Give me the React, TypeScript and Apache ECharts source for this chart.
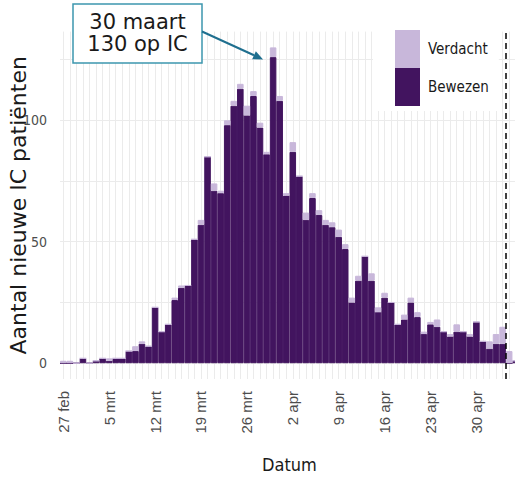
import React, { useEffect, useRef } from 'react';
import * as echarts from 'echarts';

const dates = [
  '27 feb', '28 feb', '29 feb',
  '1 mrt', '2 mrt', '3 mrt', '4 mrt', '5 mrt', '6 mrt', '7 mrt', '8 mrt', '9 mrt', '10 mrt',
  '11 mrt', '12 mrt', '13 mrt', '14 mrt', '15 mrt', '16 mrt', '17 mrt', '18 mrt', '19 mrt', '20 mrt',
  '21 mrt', '22 mrt', '23 mrt', '24 mrt', '25 mrt', '26 mrt', '27 mrt', '28 mrt', '29 mrt', '30 mrt', '31 mrt',
  '1 apr', '2 apr', '3 apr', '4 apr', '5 apr', '6 apr', '7 apr', '8 apr', '9 apr', '10 apr',
  '11 apr', '12 apr', '13 apr', '14 apr', '15 apr', '16 apr', '17 apr', '18 apr', '19 apr', '20 apr',
  '21 apr', '22 apr', '23 apr', '24 apr', '25 apr', '26 apr', '27 apr', '28 apr', '29 apr', '30 apr',
  '1 mei', '2 mei', '3 mei', '4 mei', '5 mei', '6 mei',
];

const bewezen = [
  0, 0, 0, 2, 0, 1, 2, 1, 2, 2,
  5, 5, 8, 7, 23, 13, 16, 26, 31, 32,
  51, 57, 85, 71, 70, 98, 106, 113, 102, 110,
  97, 86, 126, 108, 69, 87, 77, 59, 68, 61,
  57, 56, 52, 47, 25, 34, 44, 34, 21, 27,
  25, 16, 18, 25, 19, 12, 16, 15, 13, 11,
  13, 13, 11, 17, 9, 6, 8, 8, 0, 1,
];

const verdacht = [
  1, 1, 0, 0, 0, 0, 0, 1, 0, 0,
  0, 2, 1, 0, 0, 0, 0, 1, 1, 0,
  0, 2, 0, 3, 1, 2, 2, 2, 4, 2,
  2, 1, 4, 2, 1, 4, 0, 3, 2, 2,
  2, 2, 3, 2, 2, 2, 0, 3, 2, 2,
  0, 0, 2, 2, 2, 1, 1, 3, 0, 1,
  3, 0, 1, 0, 0, 3, 4, 7, 5, 0,
];

const yGridValues = [0, 25, 50, 75, 100, 125];
const yLabelValues = [0, 50, 100];
const cutoffPosition = 67.5; // between 4 mei and 5 mei
const peakIndex = 32; // 30 maart
const annotationText = '30 maart\n130 op IC';

const DARK = '#42145f';
const LIGHT = '#c8b7da';
const GRID = '#ebebeb';
const NARROW = "'Liberation Sans Narrow', 'DejaVu Sans Condensed', sans-serif";

export default function App() {
  const ref = useRef<HTMLDivElement>(null);

  useEffect(() => {
    const chart = echarts.init(ref.current!, null, { renderer: 'svg' });
    chart.setOption({
      animation: false,
      backgroundColor: '#ffffff',
      grid: {
        left: 60,
        top: 31.6,
        width: 459,
        height: 347.4,
        containLabel: false,
        outerBoundsMode: 'none',
      },
      legend: {
        data: ['Verdacht', 'Bewezen'],
        orient: 'vertical',
        left: 373,
        top: 22,
        itemWidth: 23,
        itemHeight: 36,
        itemGap: 0,
        icon: 'rect',
        backgroundColor: '#ffffff',
        padding: [8, 10, 5, 22],
        selectedMode: false,
        z: 20,
        textStyle: { fontFamily: NARROW, fontSize: 15, color: '#1a1a1a', padding: [0, 0, 0, 4] },
      },
      xAxis: [
        {
          type: 'category',
          data: dates,
          boundaryGap: true,
          axisLine: { show: false },
          axisTick: { show: false },
          axisLabel: {
            interval: 6,
            rotate: 90,
            margin: 12,
            fontFamily: "'Liberation Sans', Arial, sans-serif",
            fontSize: 15,
            color: '#4d4d4d',
          },
          splitLine: { show: true, interval: 0, alignWithLabel: true, lineStyle: { color: GRID, width: 1 } },
          name: 'Datum',
          nameLocation: 'middle',
          nameGap: 76,
          nameMoveOverlap: false,
          nameTextStyle: { fontFamily: NARROW, fontSize: 18, color: '#1a1a1a' },
        },
        { type: 'value', min: -0.5, max: 69.5, show: false },
      ],
      yAxis: {
        type: 'value',
        min: -6.5,
        max: 136.5,
        axisLine: { show: false },
        axisTick: { show: false, customValues: yGridValues },
        axisLabel: { customValues: yLabelValues, margin: 13, fontFamily: NARROW, fontSize: 14, color: '#4d4d4d' },
        splitLine: { show: true, lineStyle: { color: GRID, width: 1 } },
        name: 'Aantal nieuwe IC patiënten',
        nameLocation: 'middle',
        nameGap: 31,
        nameMoveOverlap: false,
        nameTextStyle: { fontFamily: "'DejaVu Sans', sans-serif", fontSize: 22, color: '#1a1a1a' },
      },
      series: [
        {
          name: 'Bewezen',
          type: 'bar',
          stack: 'ic',
          z: 10,
          data: bewezen,
          barCategoryGap: '0%',
          itemStyle: { color: DARK, borderColor: DARK, borderWidth: 1 },
        },
        {
          name: 'Verdacht',
          type: 'bar',
          stack: 'ic',
          z: 10,
          data: verdacht,
          barCategoryGap: '0%',
          itemStyle: { color: LIGHT, borderColor: LIGHT, borderWidth: 1 },
        },
        {
          name: 'cutoff',
          type: 'line',
          xAxisIndex: 1,
          yAxisIndex: 0,
          z: 12,
          data: [],
          markLine: {
            silent: true,
            z: 12,
            symbol: ['none', 'none'],
            label: { show: false },
            lineStyle: { color: '#000000', type: [6, 4], width: 1.5 },
            data: [{ xAxis: cutoffPosition }],
          },
        },
      ],
    });

    const peakValue = bewezen[peakIndex] + verdacht[peakIndex];
    const p = chart.convertToPixel({ xAxisIndex: 0, yAxisIndex: 0 }, [peakIndex, peakValue]) as number[];
    const tip = [p[0] - 10, p[1] + 12];
    const start = [202, 31.5];
    const dx = tip[0] - start[0];
    const dy = tip[1] - start[1];
    const len = Math.sqrt(dx * dx + dy * dy);
    const ux = dx / len;
    const uy = dy / len;
    const headLen = 10;
    const headW = 4.5;
    const base = [tip[0] - ux * headLen, tip[1] - uy * headLen];
    const ARROW = '#1f6f8f';

    chart.setOption({
      graphic: [
        {
          type: 'rect',
          shape: { x: 73, y: 4, width: 129, height: 59 },
          style: { fill: '#ffffff', stroke: '#3d97ae', lineWidth: 1.5 },
          z: 100,
        },
        {
          type: 'text',
          x: 137.5,
          y: 32.5,
          style: {
            text: annotationText,
            fontFamily: "'DejaVu Sans', sans-serif",
            fontSize: 21,
            lineHeight: 22,
            fill: '#1a1a1a',
            align: 'center',
            verticalAlign: 'middle',
          },
          z: 101,
        },
        {
          type: 'line',
          shape: { x1: start[0], y1: start[1], x2: base[0], y2: base[1] },
          style: { stroke: ARROW, lineWidth: 2 },
          z: 100,
        },
        {
          type: 'polygon',
          shape: {
            points: [
              [tip[0], tip[1]],
              [base[0] - uy * headW, base[1] + ux * headW],
              [base[0] + uy * headW, base[1] - ux * headW],
            ],
          },
          style: { fill: ARROW },
          z: 100,
        },
      ],
    });

    return () => chart.dispose();
  }, []);

  return (
    <div
      ref={ref}
      style={{ position: 'fixed', left: 0, top: 0, width: 515, height: 477, background: '#ffffff' }}
    />
  );
}
